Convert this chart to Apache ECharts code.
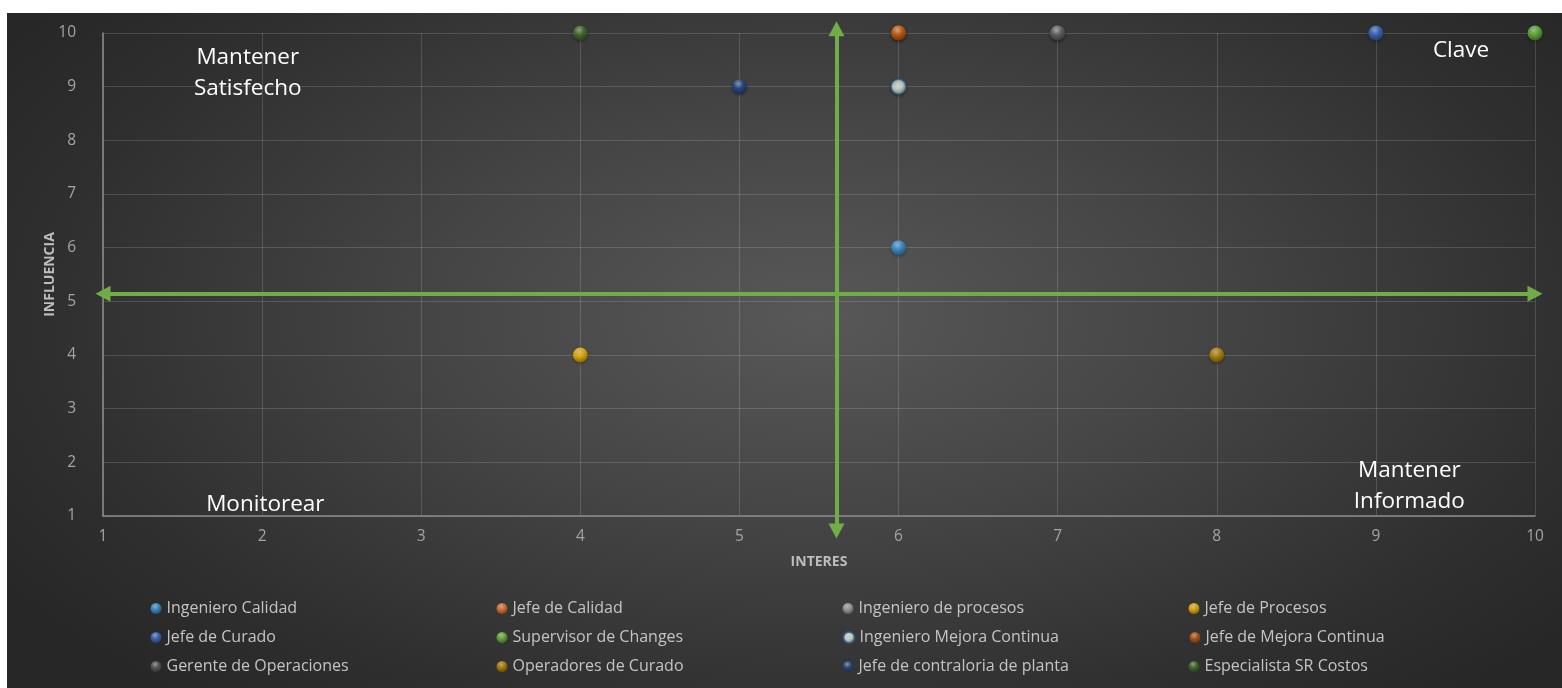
<!DOCTYPE html>
<html>
<head>
<meta charset="utf-8">
<script src="https://cdn.jsdelivr.net/npm/echarts@6/dist/echarts.min.js"></script>
<style>
  html, body { margin: 0; padding: 0; background: #ffffff; }
  #bg { position: absolute; left: 7px; top: 13px; width: 1555px; height: 675px;
        background: radial-gradient(ellipse 62% 75% at 52% 45%, #585858 0%, #454545 40%, #2f2f2f 80%, #272727 100%); }
  #chart { position: absolute; left: 0; top: 0; width: 1562px; height: 688px; }
</style>
</head>
<body>
<div id="bg"></div>
<div id="chart"></div>
<script>
// ---- data ----
const stakeholders = [
  'Ingeniero Calidad', 'Jefe de Calidad', 'Ingeniero de procesos', 'Jefe de Procesos',
  'Jefe de Curado', 'Supervisor de Changes', 'Ingeniero Mejora Continua', 'Jefe de Mejora Continua',
  'Gerente de Operaciones', 'Operadores de Curado', 'Jefe de contraloria de planta', 'Especialista SR Costos'
];
const interes    = [6, 6, 7, 4, 9, 10, 6, 6, 7, 8, 5, 4];
const influencia = [6, 10, 10, 4, 10, 10, 9, 10, 10, 4, 9, 10];
const markerColors = [
  '#3d9be0', '#ed7d31', '#a8a8a8', '#ffc000', '#3d6fd0', '#6cc040',
  '#e6f2e8', '#c55a11', '#5e5e5e', '#bf9000', '#264a8c', '#43732b'
];
const xTicks = [1, 2, 3, 4, 5, 6, 7, 8, 9, 10];
const yTicks = [1, 2, 3, 4, 5, 6, 7, 8, 9, 10];
const dividerInteres = 5.61;
const dividerInfluencia = 5.14;
const quadrantLabels = ['Mantener\nSatisfecho', 'Clave', 'Monitorear', 'Mantener\nInformado'];

// ---- helpers ----
function shade(hex, amt) {
  const n = parseInt(hex.slice(1), 16);
  let r = (n >> 16) & 255, g = (n >> 8) & 255, b = n & 255;
  if (amt >= 0) { r += (255 - r) * amt; g += (255 - g) * amt; b += (255 - b) * amt; }
  else { r *= (1 + amt); g *= (1 + amt); b *= (1 + amt); }
  return 'rgb(' + Math.round(r) + ',' + Math.round(g) + ',' + Math.round(b) + ')';
}
function sphere(hex) {
  return {
    type: 'radial', x: 0.42, y: 0.3, r: 0.75,
    colorStops: [
      { offset: 0, color: shade(hex, 0.55) },
      { offset: 0.45, color: hex },
      { offset: 1, color: shade(hex, -0.45) }
    ]
  };
}

const FONT = 'Open Sans';
const series = stakeholders.map((name, i) => ({
  name: name,
  type: 'scatter',
  symbol: 'circle',
  symbolSize: 15,
  data: [[interes[i], influencia[i]]],
  itemStyle: {
    color: sphere(markerColors[i]),
    borderColor: name === 'Ingeniero Mejora Continua' ? '#2b5c8a' : 'rgba(0,0,0,0)',
    borderWidth: name === 'Ingeniero Mejora Continua' ? 1.5 : 0,
    shadowColor: 'rgba(0,0,0,0.45)', shadowBlur: 3, shadowOffsetY: 1
  },
  z: 5
}));

series.push({
  id: 'divisores',
  name: 'divisores',
  type: 'line',
  data: [],
  clip: false,
  silent: true,
  z: 3,
  markLine: {
    silent: true,
    symbol: ['triangle', 'triangle'],
    symbolSize: [16, 15],
    label: { show: false },
    lineStyle: { color: '#70ad47', width: 4, type: 'solid' },
    itemStyle: { color: '#70ad47' },
    emphasis: { disabled: true },
    data: []
  }
});

const chart = echarts.init(document.getElementById('chart'), null, { renderer: 'canvas' });
const gridLeft = 103, gridTop = 33, gridRight = 27, gridBottom = 172;

chart.setOption({
  backgroundColor: 'transparent',
  textStyle: { fontFamily: FONT },
  animation: false,
  grid: { left: gridLeft, top: gridTop, right: gridRight, bottom: gridBottom, containLabel: false },
  xAxis: {
    type: 'value', min: xTicks[0], max: xTicks[xTicks.length - 1], interval: 1,
    name: 'INTERES', nameLocation: 'middle', nameGap: 39,
    nameTextStyle: { color: '#bdbdbd', fontWeight: 'bold', fontSize: 14, fontFamily: FONT },
    axisLine: { lineStyle: { color: '#8c8c8c', width: 1.5 } },
    axisTick: { show: false },
    axisLabel: { color: '#a4a4a4', fontSize: 15.5, margin: 13, fontFamily: FONT },
    splitLine: { show: true, lineStyle: { color: 'rgba(255,255,255,0.15)', width: 1 } }
  },
  yAxis: {
    type: 'value', min: yTicks[0], max: yTicks[yTicks.length - 1], interval: 1,
    name: 'INFLUENCIA', nameLocation: 'middle', nameGap: 46, nameRotate: 90,
    nameMoveOverlap: false,
    nameTextStyle: { color: '#bdbdbd', fontWeight: 'bold', fontSize: 14, fontFamily: FONT },
    axisLine: { show: true, lineStyle: { color: '#8c8c8c', width: 1.5 } },
    axisTick: { show: false },
    axisLabel: { color: '#a4a4a4', fontSize: 15.5, margin: 27, fontFamily: FONT },
    splitLine: { show: true, lineStyle: { color: 'rgba(255,255,255,0.15)', width: 1 } }
  },
  legend: {
    data: stakeholders,
    left: 145.5, top: 594, width: 1400,
    orient: 'horizontal',
    icon: 'circle', itemWidth: 11, itemHeight: 11, itemGap: 10,
    textStyle: { color: '#c4c4c4', fontSize: 16, fontFamily: FONT, width: 320, lineHeight: 19, padding: [0, 0, 0, 0] },
    selectedMode: false
  },
  series: series
});

// arrows and quadrant labels placed from data values via the chart's own scales
function px(x, y) { return chart.convertToPixel({ gridIndex: 0 }, [x, y]); }
function place(label, x, y) {
  const p = px(x, y);
  return { type: 'text', x: p[0], y: p[1], z: 10, silent: true,
           style: { text: label, fill: '#ffffff', font: '22.5px "' + FONT + '"', align: 'center', verticalAlign: 'middle', lineHeight: 31 } };
}
const hA = px(1.0, dividerInfluencia), hB = px(10.0, dividerInfluencia);
const vA = px(dividerInteres, 10.08), vB = px(dividerInteres, 0.72);
chart.setOption({
  series: [{
    id: 'divisores',
    markLine: {
      data: [
        [{ x: hA[0], y: hA[1] }, { x: hB[0], y: hB[1] }],
        [{ x: vA[0], y: vA[1] }, { x: vB[0], y: vB[1] }]
      ]
    }
  }],
  graphic: [
    place(quadrantLabels[0], 1.91, 9.26),
    place(quadrantLabels[1], 9.535, 9.665),
    place(quadrantLabels[2], 2.02, 1.22),
    place(quadrantLabels[3], 9.21, 1.56)
  ]
});
</script>
</body>
</html>
